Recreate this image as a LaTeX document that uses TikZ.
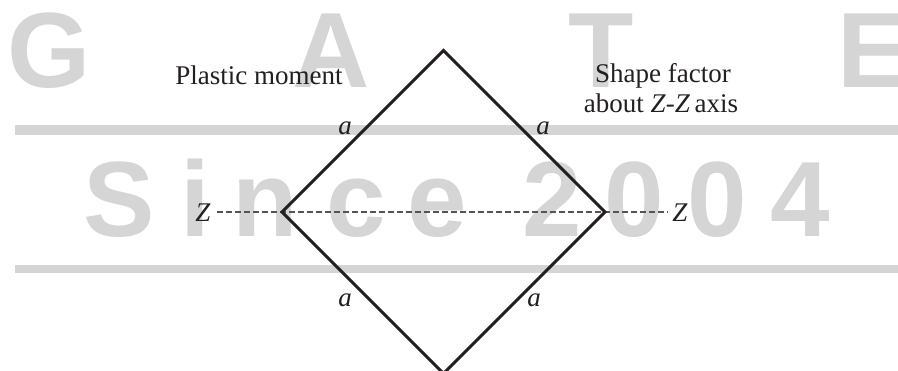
\documentclass[tikz,border=0pt]{standalone}
\usepackage{fontspec}
\setmainfont{Liberation Serif}
\newfontfamily\wmfont{Liberation Sans}
\definecolor{ink}{HTML}{231F20}
\definecolor{wm}{HTML}{D5D5D5}
\definecolor{dashgray}{HTML}{555555}
\tikzset{
  wmletter/.style={anchor=base, inner sep=0pt, text=wm, font=\wmfont\bfseries\fontsize{107}{107}\selectfont},
  wmbar/.style={fill=wm, draw=none},
  lbl/.style={anchor=base, inner sep=0pt, text=ink, font=\fontsize{27}{32}\selectfont},
  side/.style={draw=ink, line width=3pt, line join=miter},
  axis/.style={draw=dashgray, line width=1.2pt, dash pattern=on 6pt off 3pt}
}
\begin{document}
\begin{tikzpicture}[x=1pt, y=-1pt]
\useasboundingbox (0,0) rectangle (898,371);
% watermark
\fill[wmbar] (15,125) rectangle (898,135);
\fill[wmbar] (15,265) rectangle (898,273);
\node[wmletter] (wG) at (49,88) {G};
\node[wmletter] (wA) at (331,88) {A};
\node[wmletter] (wT) at (601,88) {T};
\node[wmletter] (wE) at (873,88) {E};
\node[wmletter] (wS) at (119,237) {S};
\node[wmletter] (wi) at (195,237) {i};
\node[wmletter] (wn) at (265,237) {n};
\node[wmletter] (wc) at (356,237) {c};
\node[wmletter] (we) at (437,237) {e};
\node[wmletter] (w2) at (552,237) {2};
\node[wmletter] (w0) at (634,237) {0};
\node[wmletter] (w00) at (717,237) {0};
\node[wmletter] (w4) at (800,237) {4};
% diamond
\coordinate (T) at (443.5,50.5);
\coordinate (L) at (282,212);
\coordinate (R) at (605,212);
\coordinate (B) at (443.5,373.5);
\coordinate (zl) at (217,212);
\coordinate (zr) at (668,212);
\draw[axis] (zl) -- (zr);
\draw[side] (T) -- (R) -- (B) -- (L) -- cycle;
% labels
\node[lbl] (zlab) at (203,222) {\textit{Z}};
\node[lbl] (zrab) at (680,222) {\textit{Z}};
\node[lbl] (a1) at (345,135) {\textit{a}};
\node[lbl] (a2) at (543,135) {\textit{a}};
\node[lbl] (a3) at (345,307) {\textit{a}};
\node[lbl] (a4) at (534,307) {\textit{a}};
\node[lbl] (pm) at (259,85) {Plastic moment};
\node[lbl] (sf1) at (663,83) {Shape factor};
\node[lbl] (sf2) at (661,113) {about \textit{Z}-\textit{Z}\,axis};
\end{tikzpicture}
\end{document}
